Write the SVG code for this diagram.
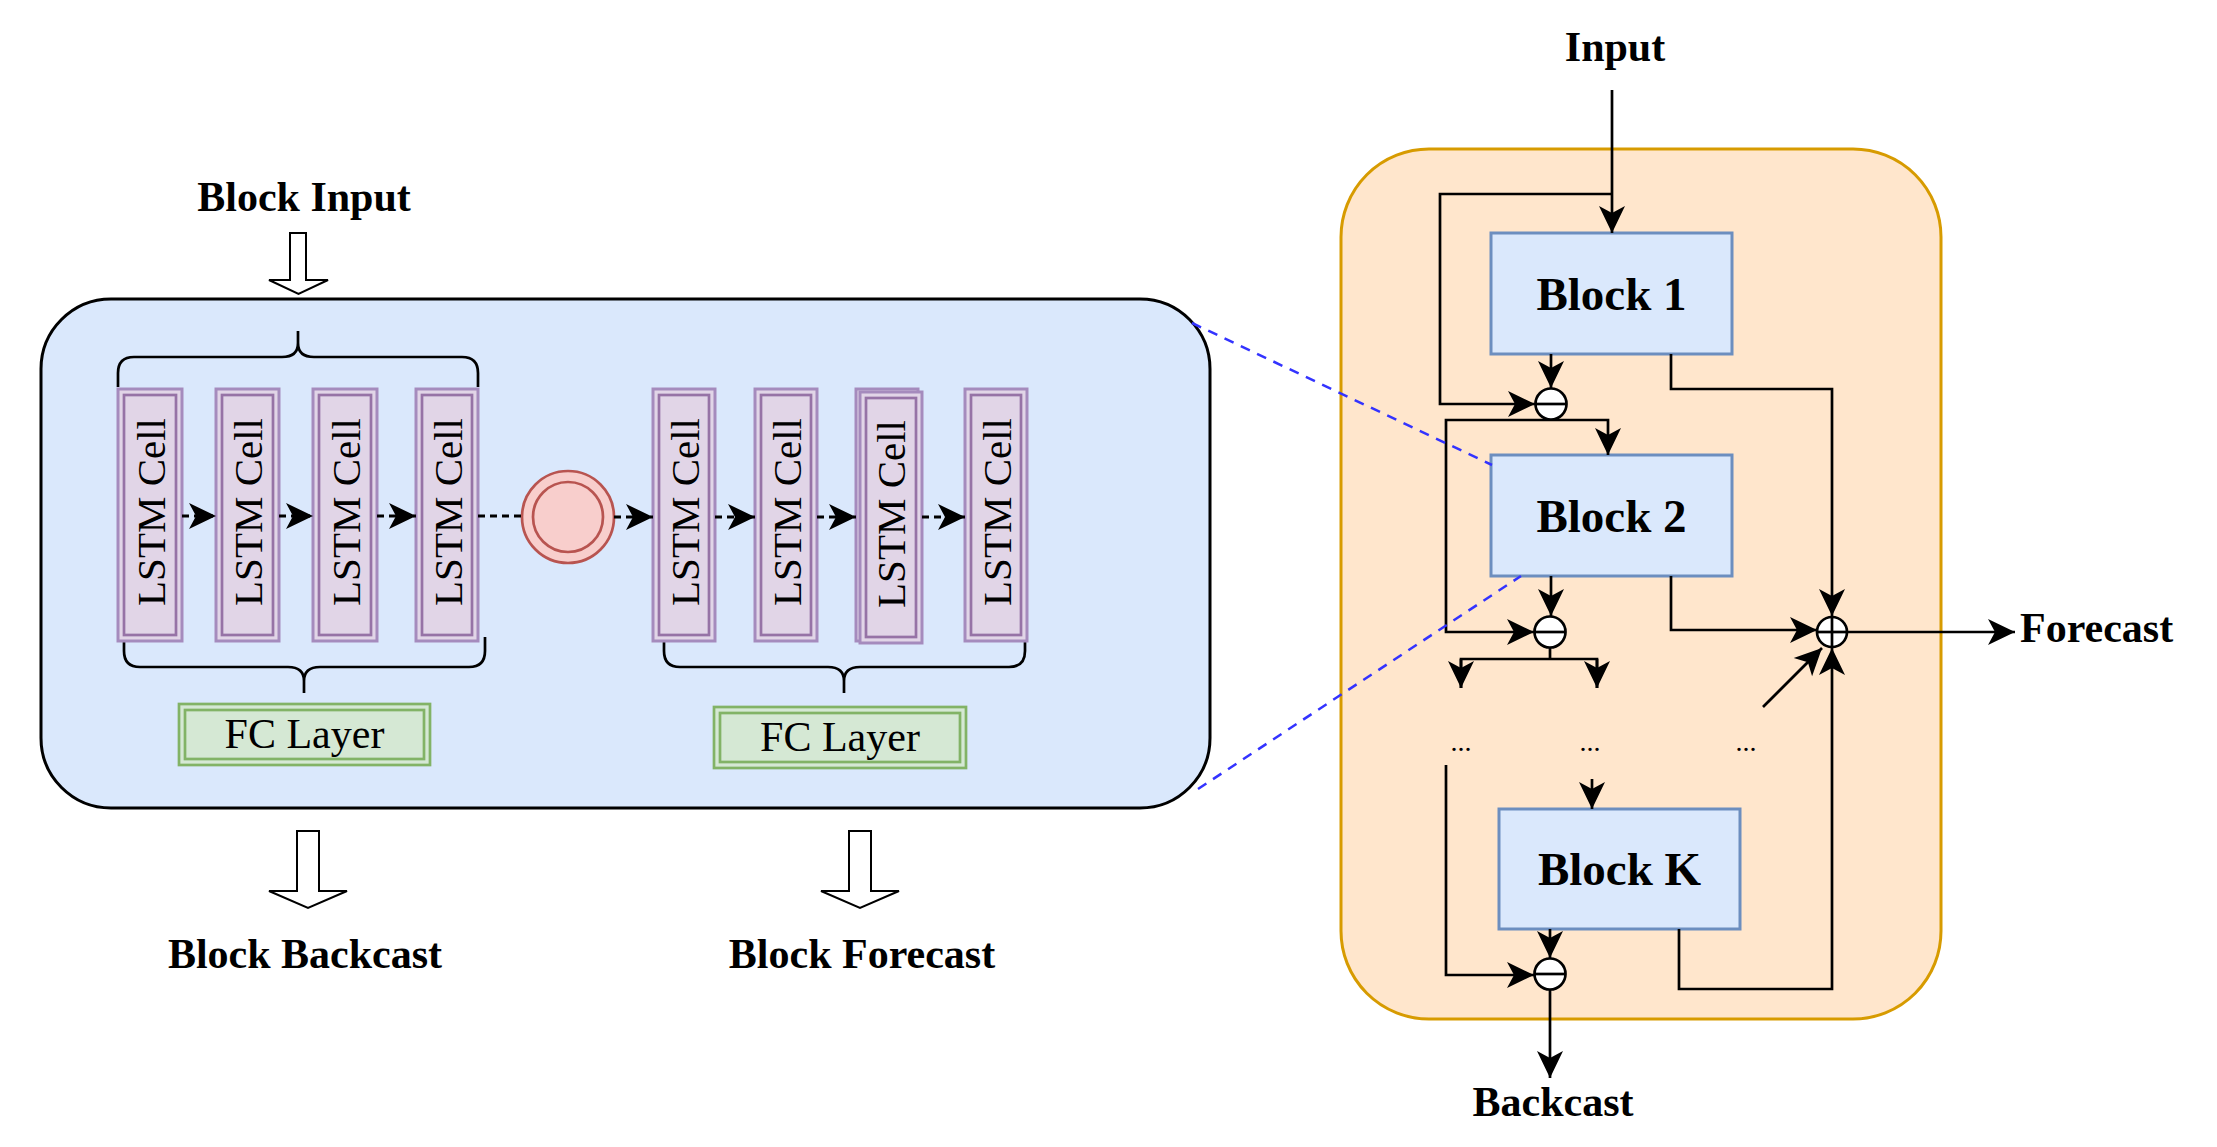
<svg xmlns="http://www.w3.org/2000/svg" width="2217" height="1147" viewBox="0 0 2217 1147">
<defs>
<marker id="ar" markerUnits="userSpaceOnUse" markerWidth="28" markerHeight="28" viewBox="0 0 28 28" refX="27" refY="14" orient="auto"><path d="M0,1 L27,14 L0,27 L7,14 Z" fill="#000"/></marker>
</defs>
<style>
.lbl{font-family:"Liberation Serif","Times New Roman",serif;font-weight:bold;font-size:42px;fill:#000}
.blk{font-family:"Liberation Serif","Times New Roman",serif;font-weight:bold;font-size:47px;fill:#000}
.cell-t{font-family:"Liberation Serif","Times New Roman",serif;font-size:41px;fill:#000}
.fc-t{font-family:"Liberation Serif","Times New Roman",serif;font-size:42px;fill:#000}
.dots{font-family:"Liberation Serif","Times New Roman",serif;font-size:28px;fill:#000}
.co{fill:#e1d5e7;stroke:#a58bbd;stroke-width:3}
.ci{fill:none;stroke:#9673a6;stroke-width:2.7}
.fo{fill:#d5e8d4;stroke:#82b366;stroke-width:2.7}
.fi{fill:none;stroke:#82b366;stroke-width:2.7}
.bx{fill:#dae8fc;stroke:#6c8ebf;stroke-width:3}
.ln{fill:none;stroke:#000;stroke-width:2.7}
.dl{fill:none;stroke:#000;stroke-width:3;stroke-dasharray:7 5}
.op{fill:#fff;stroke:#000;stroke-width:2.7}
.hol{fill:#fff;stroke:#000;stroke-width:2}
.blue{fill:none;stroke:#3333ff;stroke-width:2.5;stroke-dasharray:10 8}
</style>
<rect width="2217" height="1147" fill="#fff"/>

<g id="block-detail">
<rect x="41" y="299" width="1169" height="509" rx="70" ry="70" fill="#dae8fc" stroke="#000" stroke-width="3"/>
</g>

<g id="block-input-label"><text class="lbl" x="304" y="211" text-anchor="middle">Block Input</text></g>
<g id="block-input-arrow"><polygon class="hol" points="290,233 306,233 306,280 328,280 298.5,294 269,280 290,280"/></g>

<g id="braces">
<path class="ln" d="M118,387 L118,373 Q118,357 134,357 L282,357 Q298,357 298,343 L298,331 M298,343 Q298,357 314,357 L462,357 Q478,357 478,373 L478,387"/>
<path class="ln" d="M124,637 L124,651 Q124,667 140,667 L288,667 Q304,667 304,681 L304,693 M304,681 Q304,667 320,667 L469,667 Q485,667 485,651 L485,637"/>
<path class="ln" d="M664,637 L664,651 Q664,667 680,667 L828,667 Q844,667 844,681 L844,693 M844,681 Q844,667 860,667 L1009,667 Q1025,667 1025,651 L1025,637"/>
</g>

<g id="cell1"><rect class="co" x="118" y="389" width="64" height="252"/><rect class="ci" x="124" y="395" width="52" height="240"/><text class="cell-t" transform="translate(165,512) rotate(-90)" text-anchor="middle">LSTM Cell</text></g>
<g id="cell2"><rect class="co" x="216" y="389" width="63" height="252"/><rect class="ci" x="222" y="395" width="51" height="240"/><text class="cell-t" transform="translate(262,512) rotate(-90)" text-anchor="middle">LSTM Cell</text></g>
<g id="cell3"><rect class="co" x="313" y="389" width="64" height="252"/><rect class="ci" x="319" y="395" width="52" height="240"/><text class="cell-t" transform="translate(360,512) rotate(-90)" text-anchor="middle">LSTM Cell</text></g>
<g id="cell4"><rect class="co" x="416" y="389" width="62" height="252"/><rect class="ci" x="422" y="395" width="50" height="240"/><text class="cell-t" transform="translate(462,512) rotate(-90)" text-anchor="middle">LSTM Cell</text></g>

<g id="merge-circle"><circle cx="568" cy="517" r="46" fill="#f8cecc" stroke="#b85450" stroke-width="2.7"/><circle cx="568" cy="517" r="35" fill="#f8cecc" stroke="#b85450" stroke-width="2.7"/></g>

<g id="cell5"><rect class="co" x="653" y="389" width="62" height="252"/><rect class="ci" x="659" y="395" width="50" height="240"/><text class="cell-t" transform="translate(699,512) rotate(-90)" text-anchor="middle">LSTM Cell</text></g>
<g id="cell6"><rect class="co" x="755" y="389" width="62" height="252"/><rect class="ci" x="761" y="395" width="50" height="240"/><text class="cell-t" transform="translate(801,512) rotate(-90)" text-anchor="middle">LSTM Cell</text></g>
<g id="cell7"><rect class="co" x="856" y="389" width="62" height="252"/><rect class="co" x="860" y="392" width="62" height="251"/><rect class="ci" x="866" y="398" width="50" height="239"/><text class="cell-t" transform="translate(905,514) rotate(-90)" text-anchor="middle">LSTM Cell</text></g>
<g id="cell8"><rect class="co" x="965" y="389" width="62" height="252"/><rect class="ci" x="971" y="395" width="50" height="240"/><text class="cell-t" transform="translate(1011,512) rotate(-90)" text-anchor="middle">LSTM Cell</text></g>

<g id="fc-left"><rect class="fo" x="179" y="704" width="251" height="61"/><rect class="fi" x="185" y="710" width="239" height="49"/><text class="fc-t" x="304.5" y="748" text-anchor="middle">FC Layer</text></g>
<g id="fc-right"><rect class="fo" x="714" y="707" width="252" height="61"/><rect class="fi" x="720" y="713" width="240" height="49"/><text class="fc-t" x="840" y="751" text-anchor="middle">FC Layer</text></g>

<g id="backcast-arrow"><polygon class="hol" points="297,831 319,831 319,891 347,891 308,908 269,891 297,891"/></g>
<g id="forecast-arrow"><polygon class="hol" points="849,831 871,831 871,891 899,891 860,908 821,891 849,891"/></g>
<g id="block-backcast-label"><text class="lbl" x="305" y="968" text-anchor="middle">Block Backcast</text></g>
<g id="block-forecast-label"><text class="lbl" x="862" y="968" text-anchor="middle">Block Forecast</text></g>

<g id="stack">
<rect x="1341" y="149" width="600" height="870" rx="88" ry="88" fill="#ffe6cc" stroke="#d79b00" stroke-width="3"/>
</g>

<g id="input-label"><text class="lbl" x="1615" y="61" text-anchor="middle">Input</text></g>
<g id="block1"><rect class="bx" x="1491" y="233" width="241" height="121"/><text class="blk" x="1611.5" y="310" text-anchor="middle">Block 1</text></g>
<g id="block2"><rect class="bx" x="1491" y="455" width="241" height="121"/><text class="blk" x="1611.5" y="532" text-anchor="middle">Block 2</text></g>
<g id="blockK"><rect class="bx" x="1499" y="809" width="241" height="120"/><text class="blk" x="1619.5" y="885" text-anchor="middle">Block K</text></g>

<g id="connectors">
<line class="dl" x1="182" y1="516" x2="216" y2="516" marker-end="url(#ar)"/>
<line class="dl" x1="279" y1="516" x2="313" y2="516" marker-end="url(#ar)"/>
<line class="dl" x1="377" y1="516" x2="416" y2="516" marker-end="url(#ar)"/>
<line class="dl" x1="478" y1="516" x2="522" y2="516"/>
<line class="dl" x1="614" y1="517" x2="653" y2="517" marker-end="url(#ar)"/>
<line class="dl" x1="715" y1="517" x2="755" y2="517" marker-end="url(#ar)"/>
<line class="dl" x1="817" y1="517" x2="856" y2="517" marker-end="url(#ar)"/>
<line class="dl" x1="922" y1="517" x2="965" y2="517" marker-end="url(#ar)"/>

<line class="ln" x1="1612" y1="90" x2="1612" y2="233" marker-end="url(#ar)"/>
<polyline class="ln" points="1612,194 1440,194 1440,404 1535,404" marker-end="url(#ar)"/>
<line class="ln" x1="1551" y1="354" x2="1551" y2="388" marker-end="url(#ar)"/>
<polyline class="ln" points="1671,354 1671,389 1832,389 1832,616" marker-end="url(#ar)"/>
<polyline class="ln" points="1551,420 1446,420 1446,632 1534,632" marker-end="url(#ar)"/>
<polyline class="ln" points="1551,420 1608,420 1608,455" marker-end="url(#ar)"/>
<line class="ln" x1="1551" y1="576" x2="1551" y2="616" marker-end="url(#ar)"/>
<polyline class="ln" points="1671,576 1671,630 1817,630" marker-end="url(#ar)"/>
<line class="ln" x1="1550" y1="648" x2="1550" y2="659"/>
<polyline class="ln" points="1461,688 1461,659 1597,659 1597,688"/>
<line class="ln" x1="1461" y1="659" x2="1461" y2="688" marker-end="url(#ar)"/>
<line class="ln" x1="1597" y1="659" x2="1597" y2="688" marker-end="url(#ar)"/>
<line class="ln" x1="1763" y1="707" x2="1822" y2="648" marker-end="url(#ar)"/>
<polyline class="ln" points="1446,765 1446,975 1534,975" marker-end="url(#ar)"/>
<line class="ln" x1="1592" y1="779" x2="1592" y2="809" marker-end="url(#ar)"/>
<line class="ln" x1="1550" y1="929" x2="1550" y2="958" marker-end="url(#ar)"/>
<polyline class="ln" points="1679,929 1679,989 1832,989 1832,648" marker-end="url(#ar)"/>
<line class="ln" x1="1550" y1="990" x2="1550" y2="1078" marker-end="url(#ar)"/>
<line class="ln" x1="1847" y1="632" x2="2015" y2="632" marker-end="url(#ar)"/>
</g>

<g id="minus1"><circle class="op" cx="1551" cy="404" r="15.5"/><line class="ln" x1="1535.5" y1="404" x2="1566.5" y2="404"/></g>
<g id="minus2"><circle class="op" cx="1550" cy="632" r="15.5"/><line class="ln" x1="1534.5" y1="632" x2="1565.5" y2="632"/></g>
<g id="minus3"><circle class="op" cx="1550" cy="974" r="15.5"/><line class="ln" x1="1534.5" y1="974" x2="1565.5" y2="974"/></g>
<g id="plus"><circle class="op" cx="1832" cy="632" r="15"/><line class="ln" x1="1817" y1="632" x2="1847" y2="632"/><line class="ln" x1="1832" y1="617" x2="1832" y2="647"/></g>

<g id="dots1"><text class="dots" x="1461" y="751" text-anchor="middle">...</text></g>
<g id="dots2"><text class="dots" x="1590" y="751" text-anchor="middle">...</text></g>
<g id="dots3"><text class="dots" x="1746" y="751" text-anchor="middle">...</text></g>

<g id="forecast-label"><text class="lbl" x="2020" y="642" font-size="41">Forecast</text></g>
<g id="backcast-label"><text class="lbl" x="1553" y="1116" text-anchor="middle">Backcast</text></g>

<g id="zoom-lines">
<line class="blue" x1="1192" y1="323" x2="1492" y2="465"/>
<line class="blue" x1="1198" y1="789" x2="1521" y2="576"/>
</g>
</svg>
